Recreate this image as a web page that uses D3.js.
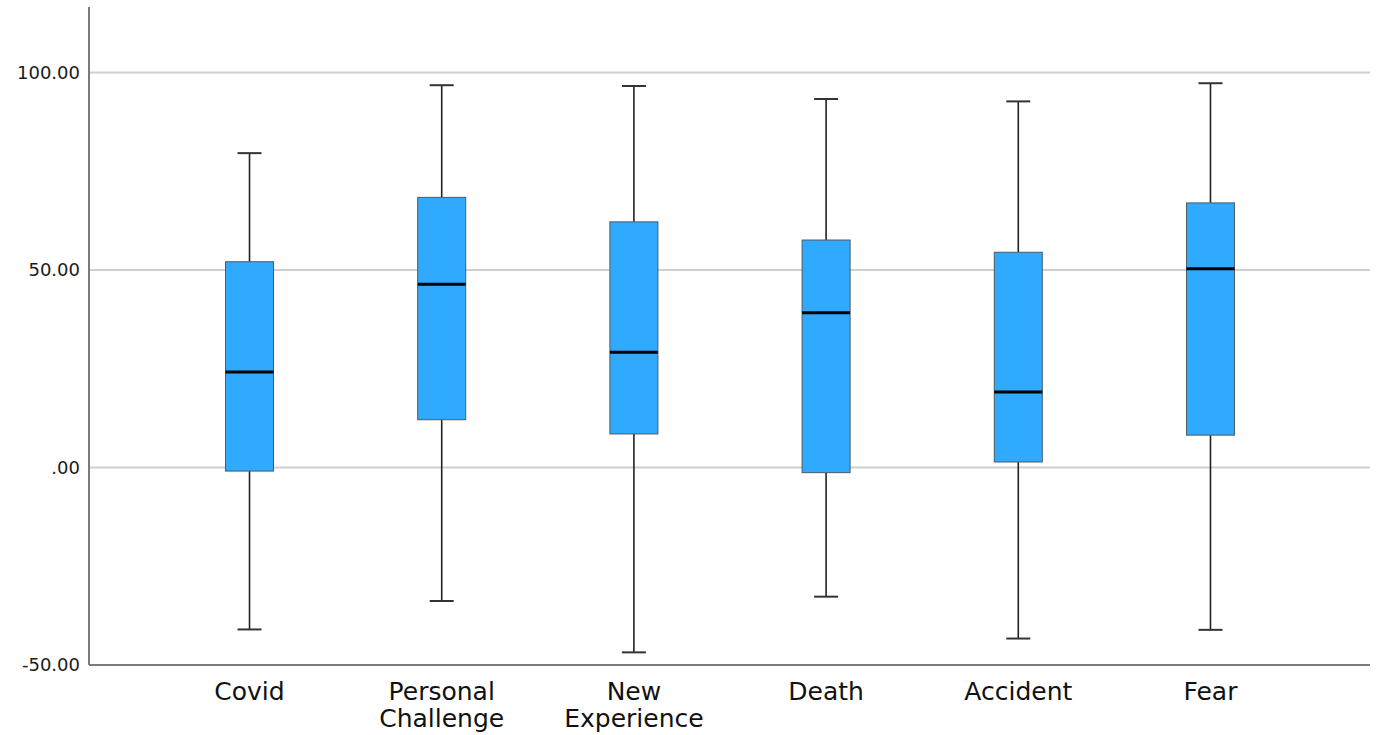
<!DOCTYPE html>
<html>
<head>
<meta charset="utf-8">
<script src="https://cdn.jsdelivr.net/npm/d3@7"></script>
<style>
  html, body { margin: 0; padding: 0; background: #fff; }
  svg { display: block; }
</style>
</head>
<body>
<svg id="chart" width="1381" height="735"></svg>
<script>
// ---- data ----
const categories = ["Covid", "Personal Challenge", "New Experience", "Death", "Accident", "Fear"];
const whiskerLow  = [-41.0, -33.8, -46.8, -32.7, -43.3, -41.1];
const q1          = [ -0.9,  12.1,   8.5,  -1.3,   1.4,   8.2];
const medians     = [ 24.2,  46.4,  29.2,  39.2,  19.1,  50.3];
const q3          = [ 52.1,  68.4,  62.2,  57.6,  54.5,  67.0];
const whiskerHigh = [ 79.6,  96.8,  96.6,  93.3,  92.7,  97.3];
const tickValues  = [-50, 0, 50, 100];
const tickLabels  = ["-50.00", ".00", "50.00", "100.00"];

const rows = categories.map((c, i) => ({
  cat: c, lo: whiskerLow[i], q1: q1[i], med: medians[i], q3: q3[i], hi: whiskerHigh[i]
}));

// ---- layout ----
const svg = d3.select("#chart");
const plotLeft = 89, plotRight = 1370, plotTop = 7, plotBottom = 665;

const y = d3.scaleLinear().domain([-50, 116.6]).range([plotBottom, plotTop]);
const x = d3.scalePoint().domain(categories).range([plotLeft + 1, plotRight]).padding(0.83);

const boxW = 48, capW = 24;
const font = "'DejaVu Sans', 'Liberation Sans', sans-serif";

// gridlines
svg.append("g").selectAll("line")
  .data(tickValues.filter(v => v !== -50))
  .join("line")
  .attr("x1", plotLeft).attr("x2", plotRight)
  .attr("y1", d => y(d)).attr("y2", d => y(d))
  .attr("stroke", "#cfcfcf").attr("stroke-width", 2);

// y axis
const yAxis = d3.axisLeft(y).tickValues(tickValues)
  .tickFormat((d, i) => tickLabels[i]).tickSize(0).tickPadding(9);
const gy = svg.append("g").attr("transform", `translate(${plotLeft},0)`).call(yAxis);
gy.select(".domain").remove();
gy.selectAll("text")
  .attr("font-family", font).attr("font-size", 18).attr("fill", "#1a1a1a");

svg.append("line")
  .attr("x1", plotLeft).attr("x2", plotLeft).attr("y1", plotTop).attr("y2", plotBottom)
  .attr("stroke", "#7a7a7a").attr("stroke-width", 2);

// boxes
const g = svg.append("g").selectAll("g").data(rows).join("g")
  .attr("transform", d => `translate(${x(d.cat)},0)`);

g.append("line")
  .attr("x1", 0).attr("x2", 0)
  .attr("y1", d => y(d.hi)).attr("y2", d => y(d.q3))
  .attr("stroke", "#222").attr("stroke-width", 1.6);
g.append("line")
  .attr("x1", 0).attr("x2", 0)
  .attr("y1", d => y(d.q1)).attr("y2", d => y(d.lo))
  .attr("stroke", "#222").attr("stroke-width", 1.6);
g.append("line")
  .attr("x1", -capW / 2).attr("x2", capW / 2)
  .attr("y1", d => y(d.hi)).attr("y2", d => y(d.hi))
  .attr("stroke", "#333").attr("stroke-width", 2);
g.append("line")
  .attr("x1", -capW / 2).attr("x2", capW / 2)
  .attr("y1", d => y(d.lo)).attr("y2", d => y(d.lo))
  .attr("stroke", "#333").attr("stroke-width", 2);

g.append("rect")
  .attr("x", -boxW / 2).attr("width", boxW)
  .attr("y", d => y(d.q3)).attr("height", d => y(d.q1) - y(d.q3))
  .attr("fill", "#30aaff").attr("stroke", "#4a5a66").attr("stroke-width", 1);

g.append("line")
  .attr("x1", -boxW / 2).attr("x2", boxW / 2)
  .attr("y1", d => y(d.med)).attr("y2", d => y(d.med))
  .attr("stroke", "#000").attr("stroke-width", 3);

// x axis line
svg.append("line")
  .attr("x1", plotLeft).attr("x2", plotRight).attr("y1", plotBottom).attr("y2", plotBottom)
  .attr("stroke", "#7a7a7a").attr("stroke-width", 2);

// category labels
const labels = svg.append("g").selectAll("text").data(categories).join("text")
  .attr("x", d => x(d)).attr("y", 700)
  .attr("text-anchor", "middle")
  .attr("font-family", font).attr("font-size", 25).attr("fill", "#111");
labels.each(function(d) {
  const words = d.split(" ");
  const t = d3.select(this);
  words.forEach((w, i) => {
    t.append("tspan").attr("x", x(d)).attr("dy", i === 0 ? 0 : 27).text(w);
  });
});
</script>
</body>
</html>
